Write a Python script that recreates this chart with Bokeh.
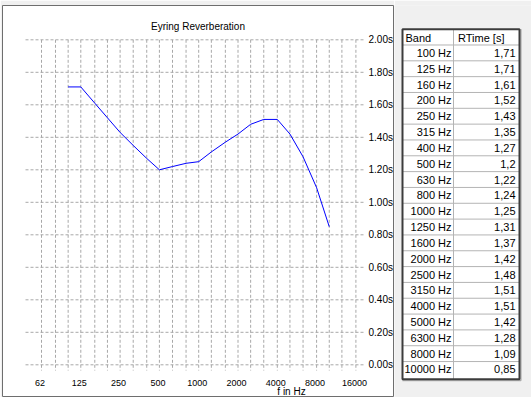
from bokeh.plotting import figure
from bokeh.layouts import row
from bokeh.models import Range1d, ColumnDataSource
from bokeh.embed import file_html
from bokeh.resources import INLINE
from bokeh.core.properties import value

# ---------------- data ----------------
bands = [100, 125, 160, 200, 250, 315, 400, 500, 630, 800, 1000, 1250, 1600,
         2000, 2500, 3150, 4000, 5000, 6300, 8000, 10000]
rtime = [1.71, 1.71, 1.61, 1.52, 1.43, 1.35, 1.27, 1.2, 1.22, 1.24, 1.25, 1.31,
         1.37, 1.42, 1.48, 1.51, 1.51, 1.42, 1.28, 1.09, 0.85]
x_ticks = [62.5, 125, 250, 500, 1000, 2000, 4000, 8000, 16000]
x_tick_labels = ["62", "125", "250", "500", "1000", "2000", "4000", "8000", "16000"]
grid_freqs = [62.5, 80, 100, 125, 160, 200, 250, 315, 400, 500, 630, 800, 1000,
              1250, 1600, 2000, 2500, 3150, 4000, 5000, 6300, 8000, 10000,
              12500, 16000]
y_ticks = [0.0, 0.2, 0.4, 0.6, 0.8, 1.0, 1.2, 1.4, 1.6, 1.8, 2.0]
y_tick_labels = ["%.2fs" % v for v in y_ticks]
title_text = "Eyring Reverberation"
xlabel_text = "f in Hz"
table_headers = ["Band", "RTime [s]"]

# ---------------- layout helpers (page pixel -> data) ----------------
PX_REF = 41.0      # page x of 62.5 Hz
PX_OCT = 39.3      # pixels per octave
PY_ZERO = 364.3    # page y of 0.00 s
PY_UNIT = 162.5    # pixels per second

def fx(px):
    return 62.5 * 2 ** ((px - PX_REF) / PX_OCT)

def vy(py):
    return (PY_ZERO - py) / PY_UNIT

CH_W, H = 394, 397
TB_W = 137
FR_L, FR_R, FR_T, FR_B = 2, 393, 5, 397

FONT = "Liberation Sans"

p = figure(width=CH_W, height=H, x_axis_type="log",
           x_range=Range1d(fx(FR_L), fx(FR_R)),
           y_range=Range1d(vy(FR_B), vy(FR_T)),
           x_axis_location=None, y_axis_location=None,
           toolbar_location=None, output_backend="svg",
           min_border_left=FR_L, min_border_right=CH_W - FR_R,
           min_border_top=FR_T, min_border_bottom=H - FR_B)
p.grid.visible = False
p.background_fill_color = "white"
p.border_fill_color = "#f0f0f0"
p.outline_line_color = "#6e6e6e"
p.outline_line_width = 1

grid_col = "#a8a8a8"
# horizontal grid
p.segment(x0=[fx(25)] * len(y_ticks), x1=[fx(363)] * len(y_ticks),
          y0=y_ticks, y1=y_ticks, line_color=grid_col, line_dash="3 2", line_width=1)
# vertical grid
p.segment(x0=grid_freqs, x1=grid_freqs,
          y0=[max(y_ticks)] * len(grid_freqs), y1=[vy(370)] * len(grid_freqs),
          line_color=grid_col, line_dash="3 2", line_width=1)

# curve
p.line(bands, rtime, line_color="#0000ff", line_width=1)

# y tick labels (right)
p.text(x=[fx(368)] * len(y_ticks), y=y_ticks, text=y_tick_labels,
       text_font=value(FONT), text_font_size="10px", text_color="black",
       text_align="left", text_baseline="middle")
# x tick labels
p.text(x=x_ticks, y=[vy(382.5)] * len(x_ticks), text=x_tick_labels,
       text_font=value(FONT), text_font_size="9px", text_color="black",
       text_align="center", text_baseline="alphabetic", x_offset=-1.5)
# title
p.text(x=[fx(197.5)], y=[vy(26)], text=[title_text],
       text_font=value(FONT), text_font_size="10px", text_color="black",
       text_align="center", text_baseline="middle")
# x axis label
p.text(x=[fx(291)], y=[vy(390.5)], text=[xlabel_text],
       text_font=value(FONT), text_font_size="10px", text_color="black",
       text_align="center", text_baseline="alphabetic")

# ---------------- table ----------------
t = figure(width=TB_W, height=H,
           x_range=Range1d(CH_W, CH_W + TB_W), y_range=Range1d(H, 0),
           x_axis_location=None, y_axis_location=None,
           toolbar_location=None, output_backend="svg",
           min_border=0, min_border_left=0, min_border_right=0,
           min_border_top=0, min_border_bottom=0)
t.grid.visible = False
t.background_fill_color = "#f0f0f0"
t.border_fill_color = "#f0f0f0"
t.outline_line_color = None

T_L, T_R, T_T, T_B = 402.0, 519.0, 24.0, 378.5
HDR_B = 40.0
ROW_H = 16.03
COL_X = 453.0

t.quad(left=[T_L], right=[T_R], top=[T_T], bottom=[T_B], fill_color="white", line_color=None)
n = len(bands)
row_lines = [HDR_B + ROW_H * k for k in range(n)]
t.segment(x0=[T_L] * n, x1=[T_R] * n, y0=row_lines, y1=row_lines,
          line_color="#b4b4b4", line_width=1)
t.segment(x0=[COL_X], x1=[COL_X], y0=[T_T], y1=[T_B], line_color="#b4b4b4", line_width=1)
# shadow lines
t.segment(x0=[T_R + 1.5, T_L], x1=[T_R + 1.5, T_R + 1.5], y0=[T_T, T_B + 1.5], y1=[T_B + 1.5, T_B + 1.5],
          line_color="#a0a0a0", line_width=1)
# outer border
t.quad(left=[T_L], right=[T_R], top=[T_T], bottom=[T_B], fill_color=None,
       line_color="#3c3c3c", line_width=2)

centers = [HDR_B + ROW_H * (k + 0.5) for k in range(n)]
band_txt = ["%d Hz" % b for b in bands]
val_txt = [str(v).replace(".", ",") for v in rtime]
src = ColumnDataSource(dict(y=centers, band=band_txt, val=val_txt,
                            xb=[451.0] * n, xv=[515.0] * n))
t.text(x="xb", y="y", text="band", source=src, text_font=value(FONT),
       text_font_size="11px", text_color="black", text_align="right", text_baseline="middle")
t.text(x="xv", y="y", text="val", source=src, text_font=value(FONT),
       text_font_size="11px", text_color="black", text_align="right", text_baseline="middle")
t.text(x=[405.0, 457.5], y=[(T_T + HDR_B) / 2 + 0.5] * 2, text=table_headers,
       text_font=value(FONT), text_font_size="11px", text_color="black",
       text_align="left", text_baseline="middle")

layout = row(p, t, spacing=0)
open("out.html", "w").write(file_html(layout, INLINE))
